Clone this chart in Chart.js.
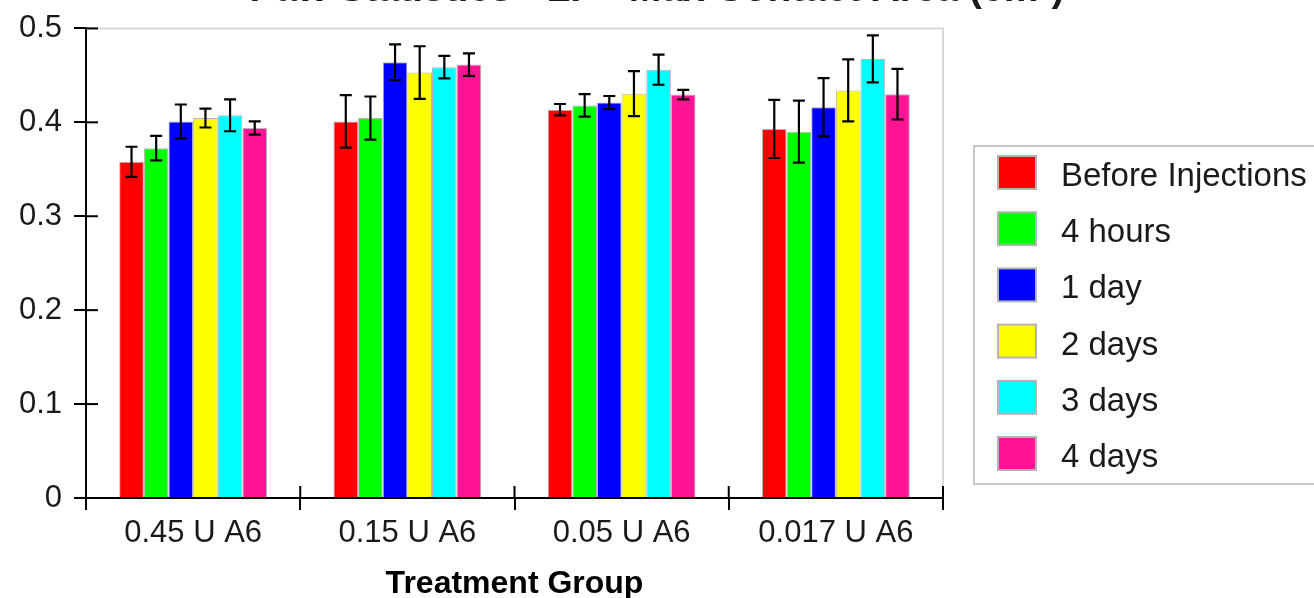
<!DOCTYPE html>
<html>
<head>
<meta charset="utf-8">
<script src="https://cdn.jsdelivr.net/npm/chart.js@4.4.1/dist/chart.umd.min.js"></script>
<style>
  html, body { margin: 0; padding: 0; background: #fff; overflow: hidden; width: 1314px; height: 598px; }
  #wrap { position: relative; width: 1314px; height: 598px; overflow: hidden; }
  #c { position: absolute; left: 0; top: -34px; }
</style>
</head>
<body>
<div id="wrap"><canvas id="c" width="1314" height="660"></canvas></div>
<script>
// ---- data ----
const chartTitle = "Paw Statistics - LF - Max Contact Area (cm²)";
const xAxisTitle = "Treatment Group";
const categories = ["0.45 U A6", "0.15 U A6", "0.05 U A6", "0.017 U A6"];
const seriesNames = ["Before Injections", "4 hours", "1 day", "2 days", "3 days", "4 days"];
const seriesColors = ["#ff0000", "#00ff00", "#0000ff", "#ffff00", "#00ffff", "#ff1493"];

const beforeInjections = [0.358, 0.401, 0.4135, 0.393];
const hours4 = [0.3725, 0.4045, 0.418, 0.390];
const day1 = [0.401, 0.464, 0.421, 0.416];
const days2 = [0.4045, 0.453, 0.4305, 0.434];
const days3 = [0.4075, 0.4587, 0.456, 0.4675];
const days4 = [0.394, 0.4615, 0.4295, 0.430];

const errBeforeInjections = [0.016, 0.028, 0.006, 0.031];
const errHours4 = [0.013, 0.023, 0.012, 0.033];
const errDay1 = [0.018, 0.019, 0.007, 0.031];
const errDays2 = [0.010, 0.028, 0.024, 0.033];
const errDays3 = [0.017, 0.012, 0.016, 0.025];
const errDays4 = [0.007, 0.012, 0.005, 0.027];

const yTicks = [0, 0.1, 0.2, 0.3, 0.4, 0.5];

const seriesValues = [beforeInjections, hours4, day1, days2, days3, days4];
const seriesErrors = [errBeforeInjections, errHours4, errDay1, errDays2, errDays3, errDays4];

const FONT = '"Liberation Sans", Arial, sans-serif';

// ---- plugins ----
const frameAndTicks = {
  id: 'frameAndTicks',
  beforeDatasetsDraw(chart) {
    const {ctx, chartArea: a} = chart;
    ctx.save();
    ctx.strokeStyle = '#d9d9d9';
    ctx.lineWidth = 2;
    ctx.beginPath();
    ctx.moveTo(a.left, a.top);
    ctx.lineTo(a.right, a.top);
    ctx.lineTo(a.right, a.bottom);
    ctx.stroke();
    ctx.restore();
  },
  afterDatasetsDraw(chart) {
    const {ctx, chartArea: a, scales} = chart;
    ctx.save();
    ctx.strokeStyle = '#000';
    ctx.lineWidth = 2;
    yTicks.forEach(v => {
      const y = scales.y.getPixelForValue(v);
      ctx.beginPath(); ctx.moveTo(a.left, y); ctx.lineTo(a.left + 12, y); ctx.stroke();
    });
    const n = categories.length;
    for (let i = 0; i <= n; i++) {
      const x = a.left + (a.right - a.left) * i / n;
      ctx.beginPath(); ctx.moveTo(x, a.bottom); ctx.lineTo(x, a.bottom - 12); ctx.stroke();
    }
    ctx.restore();
  }
};

const errorBars = {
  id: 'errorBars',
  afterDatasetsDraw(chart) {
    const {ctx, scales} = chart;
    ctx.save();
    ctx.strokeStyle = '#000';
    ctx.lineWidth = 2.2;
    chart.data.datasets.forEach((ds, i) => {
      const meta = chart.getDatasetMeta(i);
      meta.data.forEach((el, j) => {
        const v = ds.data[j], e = seriesErrors[i][j];
        const yt = scales.y.getPixelForValue(v + e);
        const yb = scales.y.getPixelForValue(v - e);
        const x = el.x, cap = 6;
        ctx.beginPath();
        ctx.moveTo(x, yt); ctx.lineTo(x, yb);
        ctx.moveTo(x - cap, yt); ctx.lineTo(x + cap, yt);
        ctx.moveTo(x - cap, yb); ctx.lineTo(x + cap, yb);
        ctx.stroke();
      });
    });
    ctx.restore();
  }
};

const boxLegend = {
  id: 'boxLegend',
  afterDraw(chart) {
    const {ctx} = chart;
    const oy = 34; // canvas offset vs. page
    ctx.save();
    ctx.strokeStyle = '#c8c8c8';
    ctx.lineWidth = 2;
    ctx.strokeRect(974, 146 + oy, 400, 338);
    ctx.font = '33px ' + FONT;
    ctx.textBaseline = 'middle';
    ctx.textAlign = 'left';
    chart.data.datasets.forEach((ds, i) => {
      const top = 156 + oy + i * 56.2;
      ctx.fillStyle = ds.backgroundColor;
      ctx.fillRect(998, top, 38, 33);
      ctx.strokeStyle = '#b4b4b4';
      ctx.lineWidth = 2;
      ctx.strokeRect(998, top, 38, 33);
      ctx.fillStyle = '#1a1a1a';
      ctx.fillText(ds.label, 1061, top + 21);
    });
    ctx.restore();
  }
};

const datasets = seriesNames.map((name, i) => ({
  label: name,
  data: seriesValues[i],
  backgroundColor: seriesColors[i],
  borderColor: 'rgba(150,150,150,0.7)',
  borderWidth: 1,
  categoryPercentage: 0.69,
  barPercentage: 1.0,
  yAxisID: 'y'
}));

new Chart(document.getElementById('c'), {
  type: 'bar',
  data: { labels: categories, datasets },
  options: {
    responsive: false,
    animation: false,
    layout: { padding: 0 },
    plugins: {
      legend: { display: false },
      tooltip: { enabled: false },
      title: {
        display: true,
        text: chartTitle,
        color: '#1a1a1a',
        font: { family: FONT, size: 39, weight: 'bold' },
        padding: { top: 1, bottom: 14.6 }
      }
    },
    scales: {
      x: {
        grid: { display: true, drawOnChartArea: false, drawTicks: true, tickLength: 12, color: '#000', lineWidth: 2, offset: true },
        border: { display: true, color: '#000', width: 2 },
        ticks: { color: '#1a1a1a', padding: 5, font: { family: FONT, size: 31 }, maxRotation: 0 },
        title: {
          display: true, text: xAxisTitle, color: '#000',
          font: { family: FONT, size: 32, weight: 'bold' },
          padding: { top: 0, bottom: 23 }
        },
        afterFit(scale) { scale.height = 128; }
      },
      y: {
        min: 0, max: 0.5,
        afterBuildTicks(scale) { scale.ticks = yTicks.map(v => ({ value: v })); },
        grid: { display: true, drawOnChartArea: false, drawTicks: true, tickLength: 12, color: '#000', lineWidth: 2 },
        border: { display: true, color: '#000', width: 2 },
        ticks: {
          color: '#1a1a1a', padding: 12,
          font: { family: FONT, size: 31 },
          callback: v => String(Math.round(v * 10) / 10)
        },
        afterFit(scale) { scale.width = 86; }
      },
      legendSpace: {
        type: 'linear',
        position: 'right',
        display: true,
        grid: { display: false, drawTicks: false },
        border: { display: false },
        ticks: { display: false },
        afterFit(scale) { scale.width = 371; }
      }
    }
  },
  plugins: [frameAndTicks, errorBars, boxLegend]
});
</script>
</body>
</html>
